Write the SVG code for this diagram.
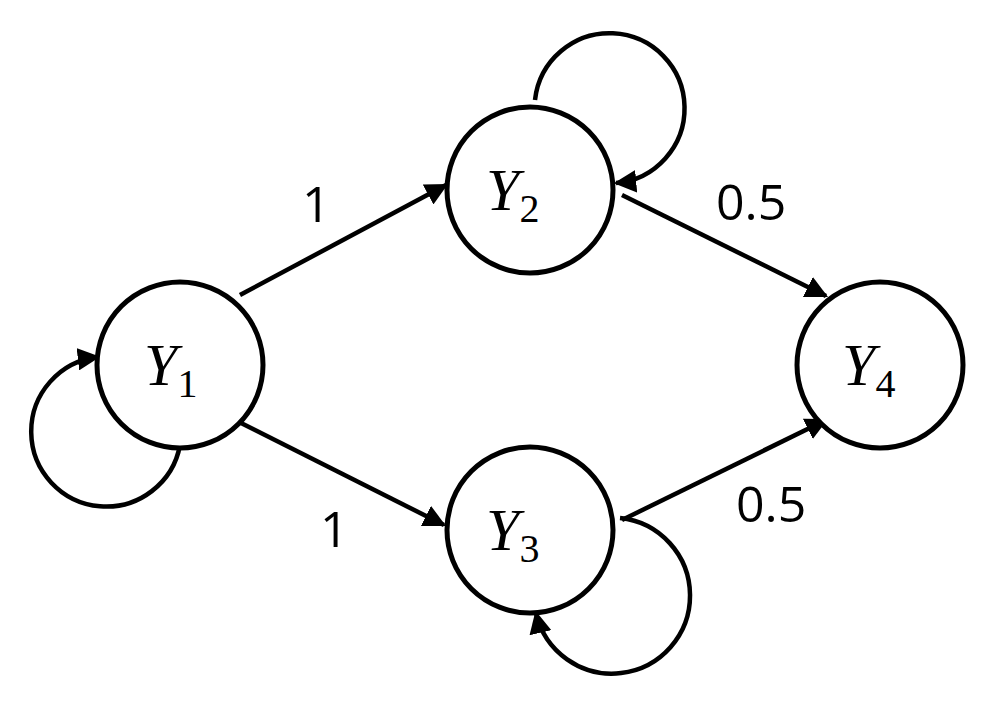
<svg xmlns="http://www.w3.org/2000/svg" width="993" height="702" viewBox="0 0 993 702">
<defs>
<marker id="ah" viewBox="0 0 10 10" refX="9" refY="5" markerWidth="5" markerHeight="5" orient="auto" markerUnits="strokeWidth"><path d="M0,0 L10,5 L0,10 z" fill="#000"/></marker>
<style>
.n{fill:#fff;stroke:#000;stroke-width:5}
.e{fill:none;stroke:#000;stroke-width:4.5;marker-end:url(#ah)}
.t{font-family:"Liberation Serif",serif;font-style:italic;font-size:60px}
.s{font-family:"Liberation Serif",serif;font-size:40px;font-style:normal}
.l{font-family:"Open Sans","Liberation Sans",sans-serif;font-size:50px}
</style>
</defs>
<rect width="993" height="702" fill="#fff"/>
<g id="connectors">
<path class="e" d="M240,295 L446,185"/>
<path class="e" d="M235,420 L444,525"/>
<path class="e" d="M622,195 L826,296"/>
<path class="e" d="M622,520 L826,420"/>
<path class="e" d="M535,100 A75 75 0 1 1 616,183"/>
<path class="e" d="M180,445 A75 75 0 1 1 98,357"/>
<path class="e" d="M620,518 A78 78 0 1 1 536,613"/>
</g>
<g id="Y1"><circle class="n" cx="180" cy="365" r="83"/><text class="t" x="144" y="385">Y<tspan class="s" dy="12">1</tspan></text></g>
<g id="Y2"><circle class="n" cx="530" cy="190" r="83"/><text class="t" x="486" y="210">Y<tspan class="s" dy="12">2</tspan></text></g>
<g id="Y3"><circle class="n" cx="530" cy="530" r="83"/><text class="t" x="486" y="550">Y<tspan class="s" dy="12">3</tspan></text></g>
<g id="Y4"><circle class="n" cx="880" cy="365" r="83"/><text class="t" x="842" y="385">Y<tspan class="s" dy="12">4</tspan></text></g>
<g id="labels">
<text class="l" x="302" y="222">1</text>
<text class="l" x="320" y="547">1</text>
<text class="l" x="716" y="220">0.5</text>
<text class="l" x="736" y="522">0.5</text>
</g>
</svg>
